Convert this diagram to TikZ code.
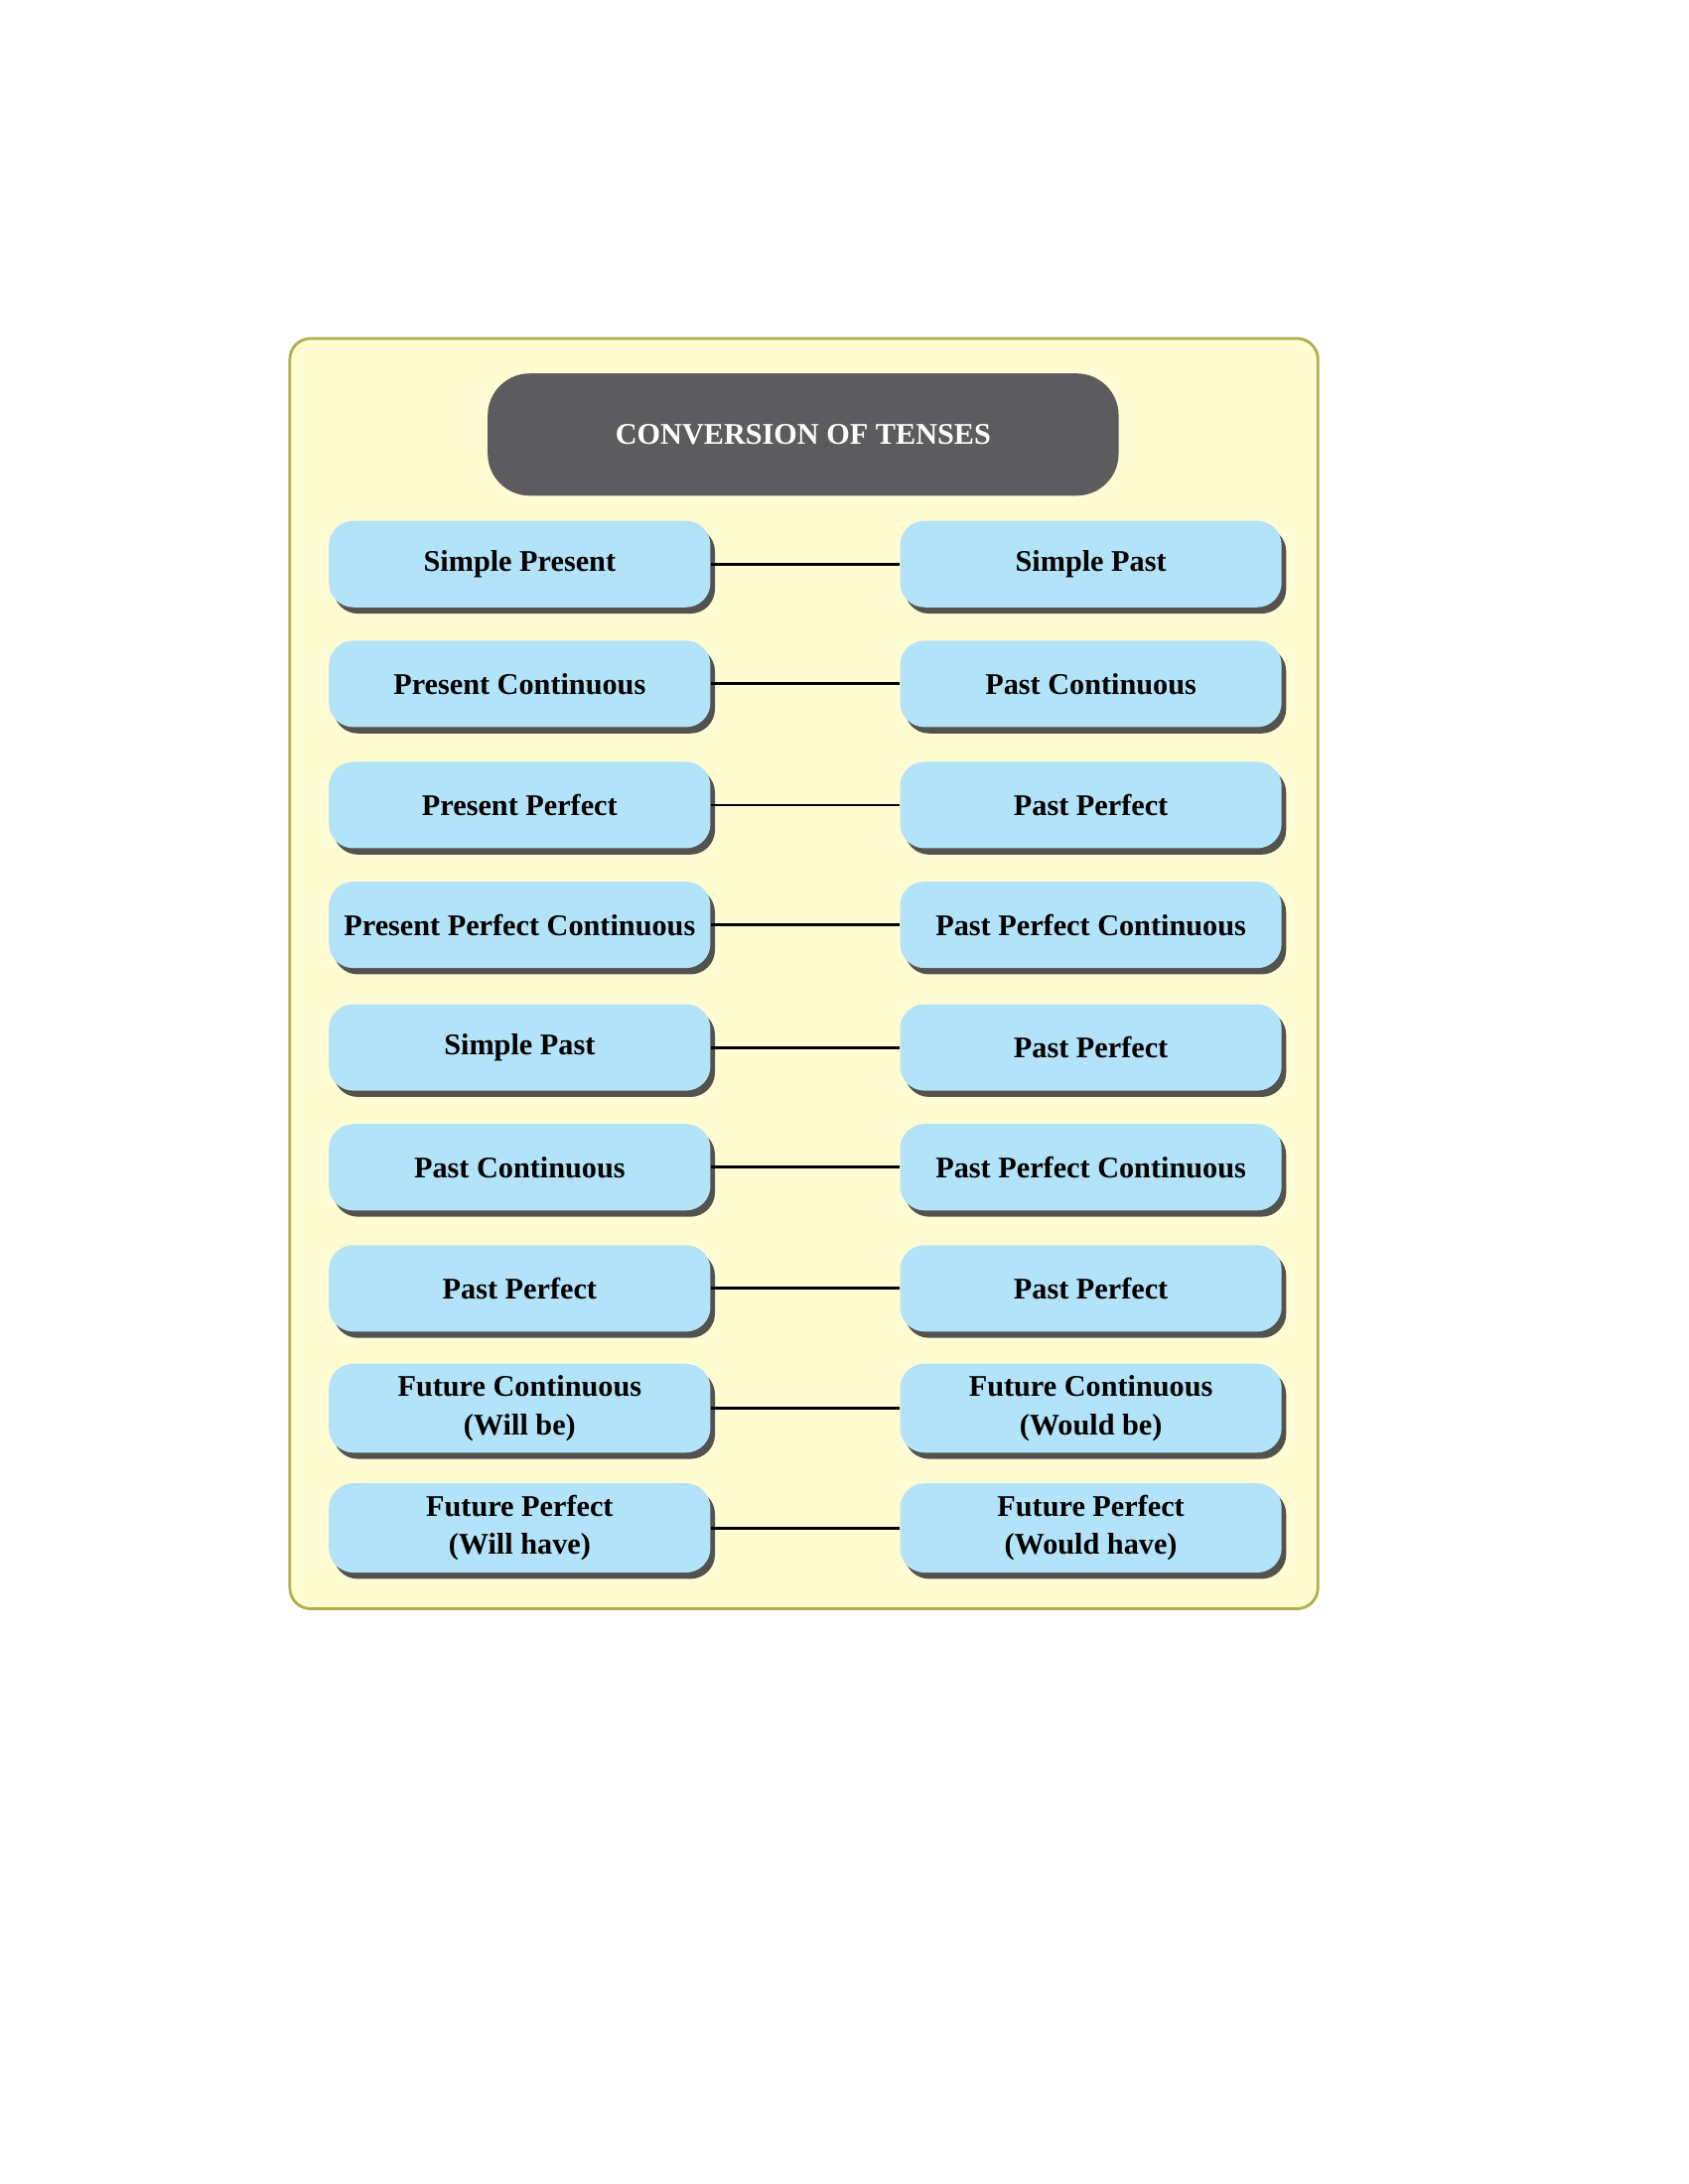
\documentclass[tikz,border=0pt]{standalone}
\usepackage{fontspec}
\setmainfont{Liberation Serif}
\usepackage{xcolor}
\definecolor{framefill}{HTML}{FFFBD2}
\definecolor{framedraw}{HTML}{B3AE4A}
\definecolor{titlefill}{HTML}{5C5C5E}
\definecolor{tensefill}{HTML}{B3E3F8}
\tikzset{
  tensebox/.style={fill=tensefill,rounded corners=7pt,minimum width=3.84cm,minimum height=0.87cm,align=center,font=\fontsize{8.6}{11}\selectfont\bfseries,
    drop shadow={shadow xshift=1.3pt,shadow yshift=-1.8pt,fill=black!75,opacity=0.9}},
  link/.style={line width=0.8pt}
}
\usetikzlibrary{shadows}
\begin{document}
\begin{tikzpicture}[x=0.014026cm,y=-0.014026cm]
  \useasboundingbox (0,0) rectangle (1212,1568);
  \draw[fill=framefill,draw=framedraw,line width=0.8pt,rounded corners=6pt] (208,243) rectangle (946,1155);
  \node[fill=titlefill,rounded corners=12pt,minimum width=6.35cm,minimum height=1.23cm,text=white,font=\fontsize{8.6}{10}\selectfont\bfseries] (title) at (576.5,312) {CONVERSION OF TENSES};
  % rows of tenses
  \foreach \i/\y/\lt/\rt in {1/405/Simple Present/Simple Past,
      2/491/Present Continuous/Past Continuous,
      3/578/Present Perfect/Past Perfect,
      4/664/Present Perfect Continuous/Past Perfect Continuous,
      5/752/Simple Past/Past Perfect,
      6/838/Past Continuous/Past Perfect Continuous,
      7/925/Past Perfect/Past Perfect,
      8/1011/Future Continuous\\(Will be)/Future Continuous\\(Would be),
      9/1097/Future Perfect\\(Will have)/Future Perfect\\(Would have)}{
    \node[tensebox] (left\i) at (373,\y) {\lt};
    \node[tensebox] (right\i) at (783,\y) {\rt};
    \draw[link] (left\i) -- (right\i);
  }
\end{tikzpicture}
\end{document}
